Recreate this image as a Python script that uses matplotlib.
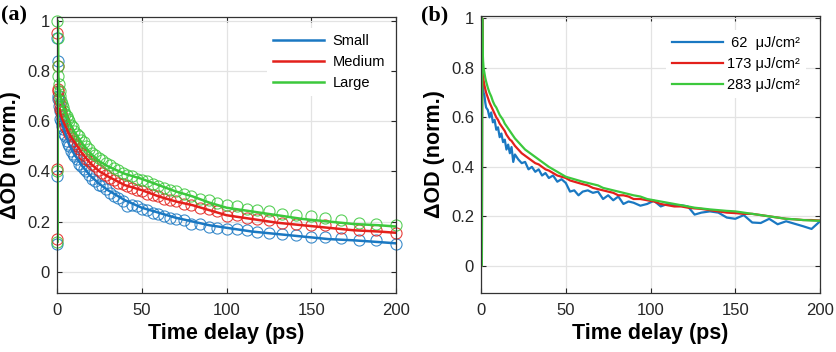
import numpy as np
import matplotlib
matplotlib.use("Agg")
import matplotlib.pyplot as plt

plt.rcParams['font.family'] = ['Liberation Sans', 'DejaVu Sans']

# ---- panel (a): particle size, measured points + fits ----
t_pts = [-0.3, 0.0, 0.15, 0.3, 0.5, 0.8, 1.1, 1.5, 2.0, 2.5, 3.0, 3.6, 4.2, 4.9, 5.6,
         6.4, 7.3, 8.2, 9.2, 10.3, 11.5, 12.8, 14.2, 15.7, 17.3, 19.0, 20.8, 22.7, 24.7,
         26.8, 29.0, 31.3, 33.7, 36.2, 38.8, 41.5, 44.3, 47.2, 50.2, 53.3, 56.5, 59.8,
         63.2, 66.7, 70.3, 74.7, 79.0, 84.5, 89.4, 94.3, 100.0, 106.0, 112.0, 117.7,
         125.3, 132.6, 141.0, 149.7, 158.0, 167.6, 178.0, 188.0, 200.0]
small_pts = [0.11, 0.38, 0.93, 0.84, 0.69, 0.70, 0.66, 0.64, 0.61, 0.60, 0.58, 0.57, 0.55,
             0.54, 0.52, 0.51, 0.50, 0.48, 0.47, 0.46, 0.45, 0.43, 0.42, 0.41, 0.40, 0.385,
             0.37, 0.36, 0.345, 0.34, 0.33, 0.315, 0.30, 0.295, 0.28, 0.26, 0.265, 0.26,
             0.25, 0.245, 0.235, 0.23, 0.22, 0.215, 0.21, 0.205, 0.19, 0.19, 0.18, 0.175,
             0.17, 0.17, 0.165, 0.16, 0.155, 0.15, 0.145, 0.14, 0.14, 0.135, 0.125, 0.125,
             0.11]
medium_pts = [0.13, 0.41, 0.95, 0.82, 0.72, 0.73, 0.69, 0.67, 0.65, 0.64, 0.62, 0.61, 0.60,
              0.58, 0.57, 0.56, 0.55, 0.54, 0.52, 0.51, 0.50, 0.49, 0.475, 0.465, 0.45,
              0.44, 0.43, 0.42, 0.405, 0.395, 0.385, 0.375, 0.365, 0.355, 0.35, 0.34,
              0.335, 0.325, 0.32, 0.31, 0.305, 0.30, 0.29, 0.285, 0.28, 0.27, 0.265, 0.255,
              0.25, 0.24, 0.22, 0.225, 0.215, 0.21, 0.205, 0.195, 0.19, 0.185, 0.185,
              0.175, 0.165, 0.165, 0.155]
large_pts = [0.12, 0.40, 1.0, 0.93, 0.82, 0.78, 0.75, 0.72, 0.70, 0.68, 0.67, 0.655, 0.64,
             0.63, 0.62, 0.61, 0.60, 0.585, 0.575, 0.56, 0.55, 0.54, 0.525, 0.515, 0.50,
             0.49, 0.475, 0.465, 0.455, 0.445, 0.435, 0.425, 0.415, 0.405, 0.395, 0.385,
             0.38, 0.37, 0.365, 0.36, 0.35, 0.34, 0.335, 0.325, 0.32, 0.31, 0.30, 0.29,
             0.285, 0.275, 0.265, 0.26, 0.25, 0.245, 0.24, 0.23, 0.225, 0.22, 0.215, 0.205,
             0.195, 0.19, 0.185]

t_fit = [1.5, 2, 3, 5, 7, 10, 15, 20, 25, 30, 40, 50, 60, 70, 80, 90, 100, 115, 130,
         145, 160, 175, 190, 200]
small_fit = [0.64, 0.62, 0.59, 0.55, 0.51, 0.47, 0.42, 0.38, 0.35, 0.325, 0.285, 0.255,
             0.235, 0.215, 0.20, 0.185, 0.175, 0.16, 0.15, 0.14, 0.13, 0.125, 0.118, 0.113]
medium_fit = [0.65, 0.63, 0.61, 0.58, 0.55, 0.52, 0.47, 0.43, 0.40, 0.38, 0.345, 0.325,
              0.30, 0.28, 0.265, 0.245, 0.225, 0.21, 0.195, 0.185, 0.175, 0.165, 0.16, 0.155]
t_fit_large = [0.4, 0.5, 0.8, 1.2, 2, 3, 5, 7, 10, 15, 20, 25, 30, 40, 50, 60, 70, 80, 90,
               100, 115, 130, 145, 160, 175, 190, 200]
large_fit = [0.12, 1.0, 0.78, 0.74, 0.70, 0.67, 0.63, 0.60, 0.56, 0.51, 0.47, 0.44, 0.42,
             0.39, 0.37, 0.345, 0.32, 0.30, 0.275, 0.255, 0.24, 0.225, 0.21, 0.20, 0.19,
             0.185, 0.18]

# ---- panel (b): pump fluence ----
t_b = [0, 0.5, 0.7, 0.9, 1.2, 1.5, 2, 2.5, 3, 4, 5, 6, 7, 8, 9, 10, 11, 12, 13, 14, 15, 16,
       17, 18, 19, 20, 22, 24, 26, 28, 30, 32, 34, 36, 38, 40, 42.5, 45, 47.5, 50, 52.5,
       55, 57.5, 60, 63, 66, 69, 72, 75, 78, 81, 84, 87, 90, 94, 98, 102, 106, 110, 114,
       118, 122, 126, 130, 135, 140, 145, 150, 155, 160, 165, 170, 175, 180, 185, 190,
       195, 200]
f62 = [0, 0, 1.0, 0.77, 0.73, 0.70, 0.69, 0.66, 0.64, 0.63, 0.60, 0.62, 0.58, 0.59, 0.55,
       0.56, 0.52, 0.535, 0.50, 0.51, 0.47, 0.49, 0.455, 0.48, 0.42, 0.45, 0.43, 0.415,
       0.42, 0.39, 0.40, 0.38, 0.39, 0.365, 0.375, 0.355, 0.365, 0.34, 0.35, 0.335, 0.30,
       0.305, 0.285, 0.30, 0.305, 0.295, 0.30, 0.27, 0.285, 0.265, 0.28, 0.25, 0.26, 0.255,
       0.243, 0.25, 0.263, 0.24, 0.25, 0.245, 0.245, 0.24, 0.207, 0.215, 0.22, 0.215,
       0.195, 0.19, 0.205, 0.175, 0.173, 0.19, 0.168, 0.18, 0.17, 0.16, 0.149, 0.18]
f173 = [0, 0, 1.0, 0.82, 0.78, 0.75, 0.73, 0.715, 0.70, 0.68, 0.66, 0.645, 0.63, 0.615,
        0.60, 0.59, 0.575, 0.565, 0.555, 0.545, 0.53, 0.52, 0.51, 0.505, 0.495, 0.485,
        0.47, 0.455, 0.445, 0.435, 0.425, 0.415, 0.41, 0.40, 0.39, 0.385, 0.375, 0.365,
        0.36, 0.355, 0.345, 0.34, 0.335, 0.33, 0.325, 0.315, 0.31, 0.305, 0.30, 0.295,
        0.285, 0.285, 0.28, 0.27, 0.27, 0.265, 0.26, 0.25, 0.245, 0.24, 0.24, 0.235, 0.232,
        0.23, 0.225, 0.22, 0.215, 0.213, 0.21, 0.21, 0.205, 0.20, 0.195, 0.19, 0.188,
        0.185, 0.185, 0.183]
f283 = [0, 0, 1.0, 0.88, 0.83, 0.80, 0.78, 0.76, 0.745, 0.72, 0.70, 0.685, 0.665, 0.65,
        0.64, 0.625, 0.61, 0.60, 0.59, 0.575, 0.565, 0.555, 0.545, 0.535, 0.525, 0.515,
        0.50, 0.485, 0.47, 0.46, 0.45, 0.44, 0.43, 0.42, 0.41, 0.40, 0.39, 0.38, 0.37,
        0.36, 0.355, 0.35, 0.345, 0.34, 0.335, 0.33, 0.325, 0.315, 0.31, 0.305, 0.30,
        0.295, 0.29, 0.285, 0.28, 0.27, 0.265, 0.26, 0.255, 0.25, 0.245, 0.24, 0.235,
        0.232, 0.228, 0.225, 0.222, 0.22, 0.215, 0.21, 0.205, 0.20, 0.195, 0.19, 0.188,
        0.185, 0.183, 0.182]

size_labels = ['Small', 'Medium', 'Large']
fluence_labels = [' 62  \u03bcJ/cm\u00b2', '173 \u03bcJ/cm\u00b2', '283 \u03bcJ/cm\u00b2']
colors = ['#1a78c2', '#e3201b', '#3cc83c']


def style_axes(ax, ylim):
    ax.set_xlim(0, 200)
    ax.set_ylim(*ylim)
    ax.set_xticks([0, 50, 100, 150, 200])
    ax.set_yticks([0, 0.2, 0.4, 0.6, 0.8, 1.0])
    ax.set_yticklabels(['0', '0.2', '0.4', '0.6', '0.8', '1'])
    ax.grid(True, color='#e3e3e3', linewidth=0.9)
    ax.set_axisbelow(True)
    ax.tick_params(direction='in', top=True, right=True, length=3.5, width=0.8,
                   labelsize=12, colors='#262626')
    ax.tick_params(axis='x', pad=7.5)
    ax.tick_params(axis='y', pad=5)
    for s in ax.spines.values():
        s.set_color('#333333')
        s.set_linewidth(0.9)
    ax.set_xlabel('Time delay (ps)', fontsize=15.5, fontweight='bold', labelpad=3)
    ax.set_ylabel('\u0394OD (norm.)', fontsize=15.5, fontweight='bold', labelpad=4)


def white_legend(ax, anchor, pad):
    leg = ax.legend(loc='upper left', bbox_to_anchor=anchor, frameon=True,
                    fontsize=10.5, handlelength=3.5, handletextpad=pad, labelspacing=0.5,
                    borderaxespad=0, borderpad=0.4)
    leg.get_frame().set_edgecolor('none')
    leg.get_frame().set_facecolor('white')
    leg.get_frame().set_alpha(1)
    return leg


fig = plt.figure(figsize=(8.36, 3.52), dpi=100)
ax1 = fig.add_axes([0.0682, 0.1676, 0.4055, 0.784])
ax2 = fig.add_axes([0.5754, 0.1676, 0.4055, 0.787])

# (a)
for pts, c in zip([small_pts, medium_pts, large_pts], colors):
    ax1.plot(t_pts, pts, 'o', mfc='none', mec=c, ms=8, mew=0.8, alpha=0.85, clip_on=False)
ax1.plot(t_fit, small_fit, color=colors[0], lw=1.8, label=size_labels[0])
ax1.plot(t_fit, medium_fit, color=colors[1], lw=1.8, label=size_labels[1])
ax1.plot(t_fit_large, large_fit, color=colors[2], lw=1.8, label=size_labels[2])
style_axes(ax1, (-0.085, 1.015))
white_legend(ax1, (0.62, 0.96), 0.6)

# (b)
for vals, c, lab in zip([f62, f173, f283], colors, fluence_labels):
    ax2.plot(t_b, vals, color=c, lw=1.6, label=lab)
style_axes(ax2, (-0.11, 1.01))
white_legend(ax2, (0.545, 0.95), 0.3)

fig.text(0.001, 0.985, '(a)', family='Liberation Serif', fontweight='bold', fontsize=16,
         va='top', ha='left')
fig.text(0.503, 0.985, '(b)', family='Liberation Serif', fontweight='bold', fontsize=16,
         va='top', ha='left')

fig.savefig('out.png', dpi=100)
